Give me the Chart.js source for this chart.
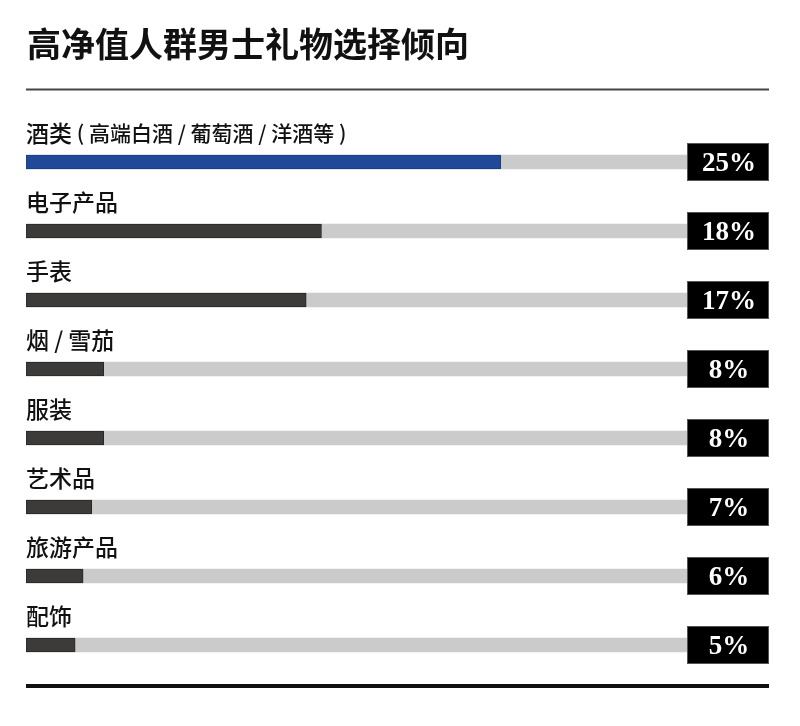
<!DOCTYPE html>
<html>
<head>
<meta charset="utf-8">
<script src="https://cdn.jsdelivr.net/npm/chart.js@4/dist/chart.umd.min.js"></script>
<style>
  body { margin: 0; background: #fff; }
</style>
</head>
<body>
<canvas id="chart" width="800" height="726"></canvas>
<script>
const title = "高净值人群男士礼物选择倾向";
const categories = ["酒类 ( 高端白酒 / 葡萄酒 / 洋酒等 )", "电子产品", "手表", "烟 / 雪茄", "服装", "艺术品", "旅游产品", "配饰"];
// printed percentages in the black boxes
const shares = [25, 18, 17, 8, 8, 7, 6, 5];
// bar lengths as drawn in the picture, as % of the grey track (they don't follow the printed shares)
const barLengths = [71.5, 44.5, 42.2, 11.7, 11.7, 9.9, 8.6, 7.4];
const trackMax = 100;

const cjk = '"Noto Sans CJK SC", "Noto Sans", sans-serif';

const decorations = {
    id: "decorations",
    afterDraw(chart) {
        const ctx = chart.ctx;
        const y = chart.scales.y;
        ctx.save();

        // title
        ctx.fillStyle = "#111";
        ctx.font = "bold 34px " + cjk;
        ctx.textAlign = "left";
        ctx.textBaseline = "middle";
        ctx.fillText(title, 27, 44);

        // rules
        ctx.fillStyle = "#444";
        ctx.fillRect(26, 88.5, 743, 2);
        ctx.fillStyle = "#111";
        ctx.fillRect(26, 684, 743, 4);

        categories.forEach((cat, i) => {
            const cy = y.getPixelForValue(i);

            ctx.fillStyle = "#111";
            ctx.textAlign = "left";
            ctx.textBaseline = "middle";
            // the note in brackets is set a bit smaller
            const cut = cat.indexOf(" (");
            const main = cut < 0 ? cat : cat.slice(0, cut);
            ctx.font = "500 23px " + cjk;
            ctx.fillText(main, 26, cy - 29);
            if (cut >= 0) {
                const w = ctx.measureText(main).width;
                ctx.font = "500 21px " + cjk;
                ctx.fillText(cat.slice(cut), 26 + w, cy - 29);
            }

            // value box
            ctx.fillStyle = "#000";
            ctx.fillRect(687, cy - 19, 82, 38);
            ctx.strokeStyle = "#555";
            ctx.lineWidth = 1;
            ctx.strokeRect(687.5, cy - 18.5, 81, 37);

            ctx.fillStyle = "#fff";
            ctx.font = 'bold 27px "Liberation Serif", "DejaVu Serif", serif';
            ctx.textAlign = "center";
            ctx.textBaseline = "alphabetic";
            ctx.fillText(shares[i] + "%", 729, cy + 9);
        });

        ctx.restore();
    }
};

new Chart("chart", {
    type: "bar",
    data: {
        labels: categories,
        datasets: [
            {
                data: barLengths,
                backgroundColor: categories.map((c, i) => i == 0 ? "#21499a" : "#3d3a3a"),
                borderColor: categories.map((c, i) => i == 0 ? "#1a3d85" : "#2a2727"),
                borderWidth: 1,
                borderSkipped: false,
                barThickness: 14,
                grouped: false,
                order: 0
            },
            {
                data: categories.map(() => trackMax),
                backgroundColor: "#cbcbcb",
                barThickness: 14,
                grouped: false,
                order: 1
            }
        ]
    },
    options: {
        indexAxis: "y",
        responsive: false,
        animation: false,
        layout: {
            padding: {left: 26, right: 110, top: 127.5, bottom: 46.5}
        },
        scales: {
            x: {display: false, min: 0, max: trackMax},
            y: {display: false}
        },
        plugins: {
            legend: {display: false},
            tooltip: {enabled: false}
        }
    },
    plugins: [decorations]
});
</script>
</body>
</html>
